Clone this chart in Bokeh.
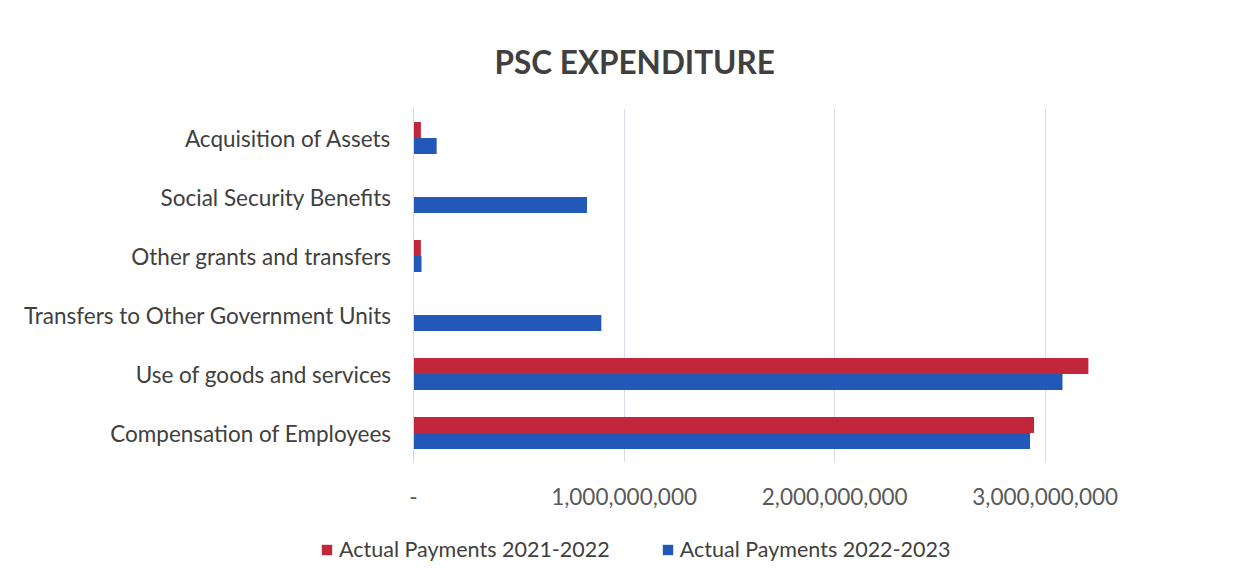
from bokeh.plotting import figure
from bokeh.models import ColumnDataSource, FactorRange, Range1d, Legend, LegendItem, FixedTicker, Title
from bokeh.transform import dodge
from bokeh.embed import file_html
from bokeh.resources import INLINE

categories = ["Compensation of Employees", "Use of goods and services",
              "Transfers to Other Government Units", "Other grants and transfers",
              "Social Security Benefits", "Acquisition of Assets"]
payments_2021_2022 = [2_947_000_000, 3_205_000_000, 0, 35_000_000, 0, 35_000_000]
payments_2022_2023 = [2_928_000_000, 3_082_000_000, 892_000_000, 38_000_000, 824_000_000, 110_000_000]
series_names = ["Actual Payments 2021-2022", "Actual Payments 2022-2023"]
tick_values = [0, 1_000_000_000, 2_000_000_000, 3_000_000_000]
tick_labels = ["-", "1,000,000,000", "2,000,000,000", "3,000,000,000"]

RED = "#c2263a"
BLUE = "#2258b8"
FONT = "Lato"
W = 1235

src = ColumnDataSource(dict(cat=categories, a=payments_2021_2022, b=payments_2022_2023))

p = figure(width=W, height=520, output_backend="svg", toolbar_location=None,
           y_range=FactorRange(*categories, range_padding=0.0),
           x_range=Range1d(0, 3_500_000_000),
           min_border_left=413, min_border_right=85, min_border_top=108, min_border_bottom=58)
p.outline_line_color = None
p.background_fill_color = "white"

r1 = p.hbar(y=dodge("cat", 0.135, range=p.y_range), right="a", left=0, height=0.27,
            source=src, color=RED, line_color=None)
r2 = p.hbar(y=dodge("cat", -0.135, range=p.y_range), right="b", left=0, height=0.27,
            source=src, color=BLUE, line_color=None)

t = Title(text="PSC EXPENDITURE", align="left", offset=81, standoff=56, text_font=FONT,
          text_font_size="31.5px", text_font_style="bold", text_color="#404040")
p.title = t

p.xaxis.ticker = FixedTicker(ticks=tick_values)
p.xaxis.major_label_overrides = {int(v): l for v, l in zip(tick_values, tick_labels)}
p.xaxis.axis_line_color = None
p.xaxis.major_tick_line_color = None
p.xaxis.minor_tick_line_color = None
p.xaxis.major_label_standoff = 19
p.xaxis.major_label_text_font = FONT
p.xaxis.major_label_text_font_size = "22.5px"
p.xaxis.major_label_text_color = "#595959"

p.yaxis.axis_line_color = "#d8d8e8"
p.yaxis.major_tick_line_color = None
p.yaxis.minor_tick_line_color = None
p.yaxis.major_label_standoff = 16
p.yaxis.major_label_text_font = FONT
p.yaxis.major_label_text_font_size = "22.5px"
p.yaxis.major_label_text_color = "#404040"

p.xgrid.grid_line_color = "#d9d9ef"
p.xgrid.ticker = FixedTicker(ticks=tick_values[1:])
p.ygrid.grid_line_color = None

# legend strip below the chart (separate root so its frame spans the full width)
q = figure(width=W, height=46, output_backend="svg", toolbar_location=None,
           x_range=Range1d(0, W), y_range=Range1d(0, 46),
           x_axis_location=None, y_axis_location=None,
           min_border=0, min_border_left=0, min_border_right=0, min_border_top=0, min_border_bottom=0)
q.outline_line_color = None
q.grid.visible = False
lr1 = q.hbar(y=0, right="a", left=0, height=1, source=src, color=RED, line_color=None, visible=False)
lr2 = q.hbar(y=0, right="b", left=0, height=1, source=src, color=BLUE, line_color=None, visible=False)

legend = Legend(items=[LegendItem(label=series_names[0], renderers=[lr1]),
                       LegendItem(label=series_names[1], renderers=[lr2])],
                orientation="horizontal", location=(320, 4), padding=0, margin=0,
                label_text_font=FONT, label_text_font_size="21.5px", label_text_color="#404040",
                glyph_width=13, glyph_height=13, spacing=51, label_standoff=6,
                inactive_fill_alpha=0.0, click_policy="none",
                border_line_color=None, background_fill_alpha=0)
q.add_layout(legend)

open("out.html", "w").write(file_html([p, q], INLINE))
